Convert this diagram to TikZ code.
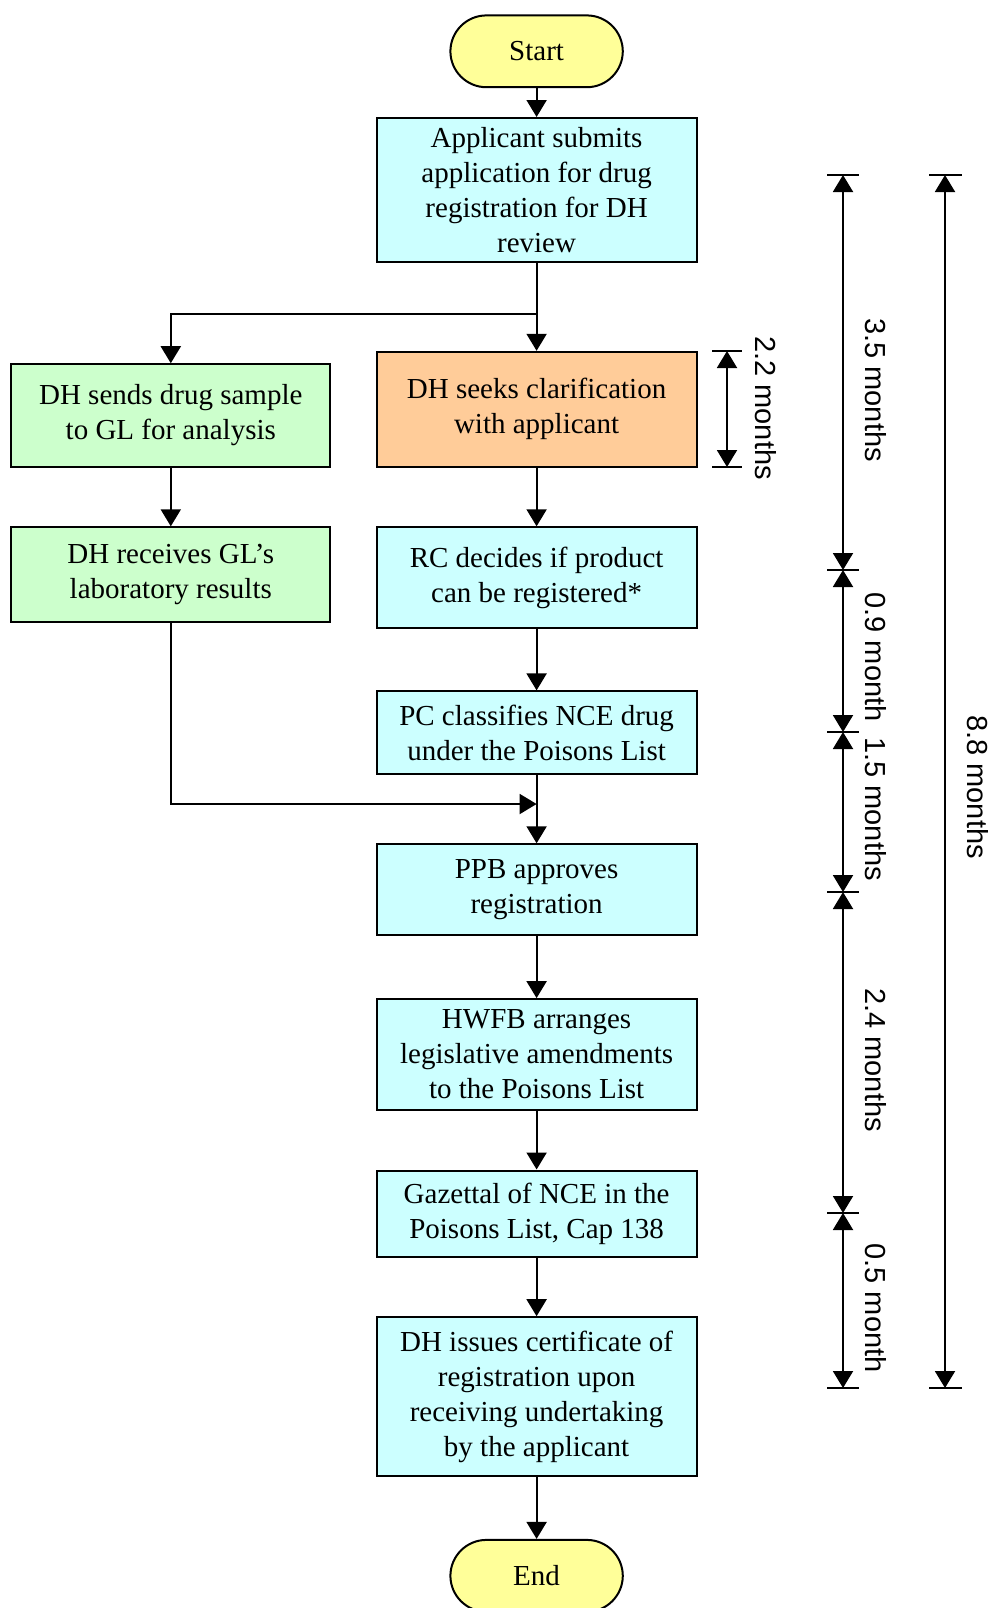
\documentclass[tikz,border=0pt]{standalone}
\usepackage{fontspec}
\setmainfont{Liberation Serif}
\newfontfamily\dimfont{Liberation Sans}
\usetikzlibrary{positioning,arrows.meta}

\definecolor{boxcyan}{HTML}{CCFFFF}
\definecolor{boxgreen}{HTML}{CCFFCC}
\definecolor{boxorange}{HTML}{FFCC99}
\definecolor{boxyellow}{HTML}{FFFF99}

\tikzset{
  stepbox/.style={draw=black,line width=1pt,fill=boxcyan,minimum width=160pt,
    align=center,inner sep=0pt,font=\fontsize{14.5}{17.5}\selectfont,
    execute at begin node={\rule{0pt}{15.5pt}}},
  sidebox/.style={stepbox,fill=boxgreen,minimum width=159.5pt},
  termbox/.style={draw=black,line width=1pt,fill=boxyellow,rounded corners=18pt,
    minimum width=86.2pt,minimum height=35.9pt,font=\fontsize{14.5}{17.5}\selectfont},
  arr/.style={line width=1pt,-{Triangle[length=8.5pt,width=10pt]}},
  dimline/.style={line width=1pt,{Triangle[length=8.5pt,width=10pt]}-{Triangle[length=8.5pt,width=10pt]}},
  dimtick/.style={line width=1pt},
  dimlabel/.style={rotate=-90,inner sep=0pt,font=\dimfont\fontsize{14.5}{17}\selectfont}
}

\begin{document}
\begin{tikzpicture}[x=0.5pt,y=-0.5pt]
		\useasboundingbox (0,0) rectangle (991,1608);
		
		% main column
		\node[termbox] (start) at (536.6,51.3) {Start};
		\node[stepbox,minimum height=71.8pt] (app) at (536.6,189.8) {Applicant submits\\application for drug\\registration for DH\\review};
		\node[stepbox,minimum height=57.5pt,fill=boxorange] (seeks) at (536.6,409.3) {DH seeks clarification\\with applicant};
		\node[stepbox,minimum height=50.3pt] (rc) at (536.6,577.6) {RC decides if product\\can be registered*};
		\node[stepbox,minimum height=41.1pt] (pc) at (536.6,732.5) {PC classifies NCE drug\\under the Poisons List};
		\node[stepbox,minimum height=45.2pt] (ppb) at (536.6,889.5) {PPB approves\\registration};
		\node[stepbox,minimum height=55.5pt] (hwfb) at (536.6,1054.6) {HWFB arranges\\legislative amendments\\to the Poisons List};
		\node[stepbox,minimum height=43.2pt] (gaz) at (536.6,1213.7) {Gazettal of NCE in the\\Poisons List, Cap 138};
		\node[stepbox,minimum height=79.6pt] (cert) at (536.6,1396.8) {DH issues certificate of\\registration upon\\receiving undertaking\\by the applicant};
		\node[termbox] (end) at (536.6,1575.8) {End};
		
		% left column
		\node[sidebox,minimum height=51.3pt] (sends) at (170.8,415.5) {DH sends drug sample\\to GL for analysis};
		\node[sidebox,minimum height=47.2pt] (recv) at (170.8,574.5) {DH receives GL’s\\laboratory results};
		
		% connectors
		\coordinate (split) at (536.6,314);
		\coordinate (join) at (536.6,804);
		\draw[arr] (start)--(app);
		\draw[arr] (app)--(seeks);
		\draw[arr] (split)-|(sends.north);
		\draw[arr] (sends)--(recv);
		\draw[arr] (recv.south)|-(join);
		\draw[arr] (seeks)--(rc);
		\draw[arr] (rc)--(pc);
		\draw[arr] (pc)--(ppb);
		\draw[arr] (ppb)--(hwfb);
		\draw[arr] (hwfb)--(gaz);
		\draw[arr] (gaz)--(cert);
		\draw[arr] (cert)--(end);
		
		% durations
		\coordinate (d1) at (727,351);
		\coordinate (d2) at (727,467);
		\draw[dimline] (d1)--(d2);
		\draw[dimtick] (712,351)--(742,351);
		\draw[dimtick] (712,467)--(742,467);
		\node[dimlabel] (l22) at (766,408) {2.2 months};
		
		\coordinate (m0) at (843,175);
		\coordinate (m1) at (843,570);
		\coordinate (m2) at (843,732);
		\coordinate (m3) at (843,892);
		\coordinate (m4) at (843,1213);
		\coordinate (m5) at (843,1388);
		\draw[dimline] (m0)--(m1);
		\draw[dimline] (m1)--(m2);
		\draw[dimline] (m2)--(m3);
		\draw[dimline] (m3)--(m4);
		\draw[dimline] (m4)--(m5);
		\draw[dimtick] (827,175)--(859,175);
		\draw[dimtick] (827,570)--(859,570);
		\draw[dimtick] (827,732)--(859,732);
		\draw[dimtick] (827,892)--(859,892);
		\draw[dimtick] (827,1213)--(859,1213);
		\draw[dimtick] (827,1388)--(859,1388);
		\node[dimlabel] (l35) at (876,390) {3.5 months};
		\node[dimlabel] (l09) at (876,657) {0.9 month};
		\node[dimlabel] (l15) at (876,809) {1.5 months};
		\node[dimlabel] (l24) at (876,1060) {2.4 months};
		\node[dimlabel] (l05) at (876,1308) {0.5 month};
		
		\coordinate (t0) at (945,175);
		\coordinate (t1) at (945,1388);
		\draw[dimline] (t0)--(t1);
		\draw[dimtick] (929,175)--(962,175);
		\draw[dimtick] (929,1388)--(962,1388);
		\node[dimlabel] (l88) at (978,787) {8.8 months};
	\end{tikzpicture}
\end{document}
